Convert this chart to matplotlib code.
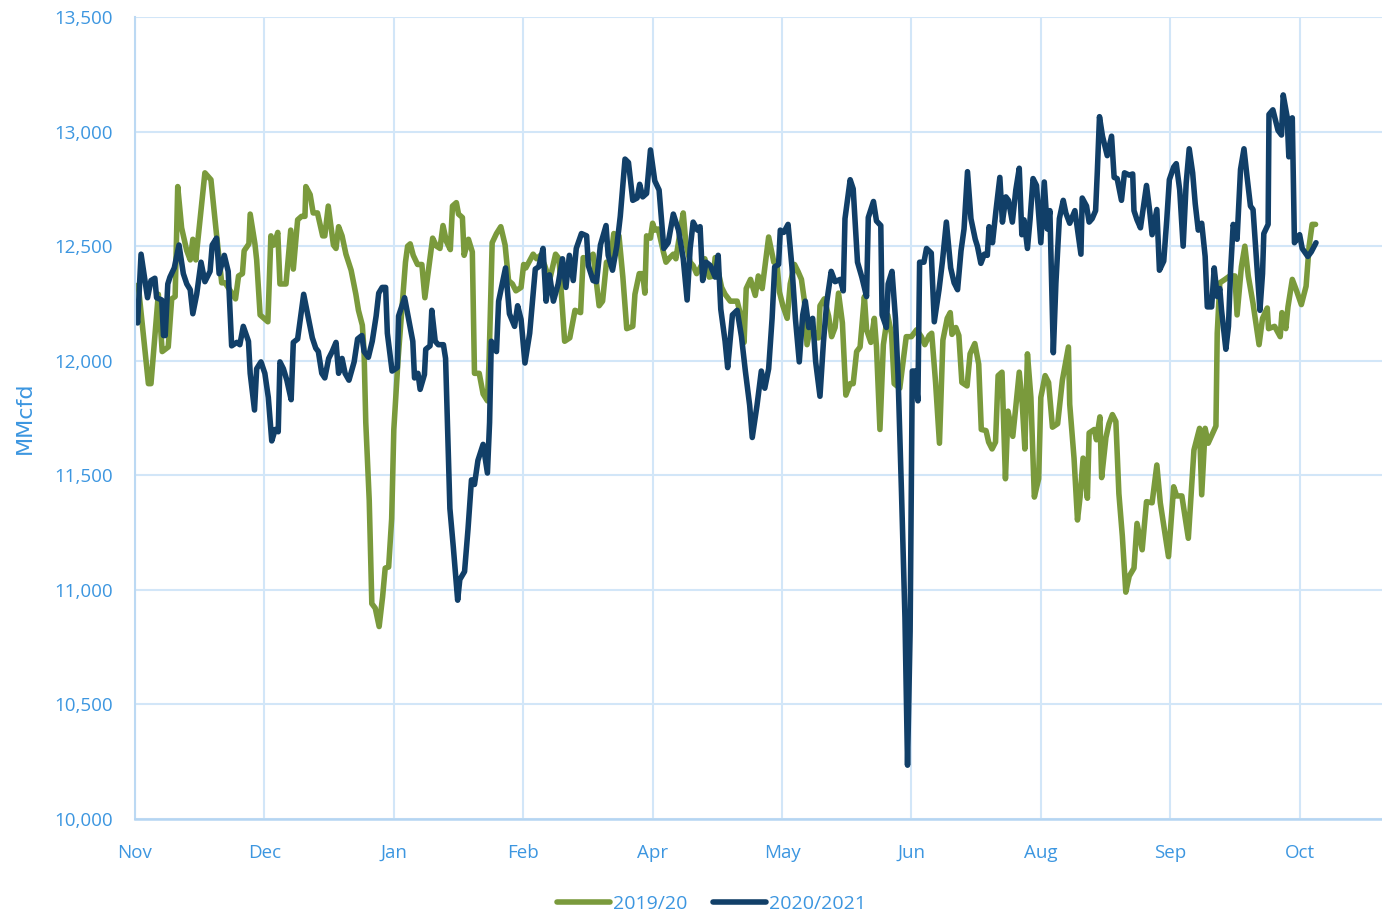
import matplotlib
matplotlib.use("Agg")
import matplotlib.pyplot as plt

# day offset from 1 Nov and value (MMcfd)
days_1920 = [0, 0.8, 3.1, 3.7, 5.4, 6.3, 7.7, 8.5, 9.3, 9.9, 10.8, 12.0, 12.8, 13.4, 14.1, 16.2, 17.6, 18.9, 20.1, 20.9,
             23.3, 24.0, 24.9, 25.3, 26.4, 26.7, 27.8, 28.2, 29.0, 30.8, 31.5, 32.2, 33.1, 33.6, 35.0, 36.1, 36.7, 37.7, 38.6, 39.4,
             39.6, 40.6, 41.3, 42.3, 43.5, 44.0, 44.8, 46.0, 46.6, 47.2, 48.0, 48.9, 50.1, 51.2, 51.8, 52.7, 53.1, 53.5, 54.3, 54.9,
             55.7, 56.6, 57.4, 58.0, 58.8, 59.5, 60.0, 61.0, 62.7, 63.2, 63.8, 64.5, 65.5, 66.5, 67.2, 69.0, 69.9, 70.7, 71.4, 72.2,
             73.1, 73.6, 74.5, 75.0, 75.9, 76.3, 77.3, 78.2, 78.7, 79.8, 80.7, 81.7, 82.1, 82.8, 83.8, 84.8, 85.8, 86.6, 87.5, 88.3,
             89.5, 90.1, 90.6, 92.3, 93.1, 94.0, 95.0, 96.1, 97.5, 98.3, 99.6, 100.8, 102.0, 103.3, 103.9, 105.1, 106.2, 107.6, 108.4, 109.3,
             110.1, 111.0, 112.2, 113.1, 114.0, 115.4, 115.9, 116.9, 117.7, 118.2, 118.6, 119.5, 120.0, 120.5, 121.3, 122.5, 123.1, 124.0, 124.8, 125.4,
             126.3, 127.1, 127.7, 128.7, 129.4, 130.2, 131.0, 132.1, 133.1, 134.1, 134.5, 136.0, 136.8, 138.0, 139.6, 140.4, 141.2, 141.7, 142.7, 143.8,
             144.5, 145.4, 146.9, 148.1, 148.8, 149.4, 150.2, 151.2, 151.9, 152.9, 153.7, 154.5, 155.2, 155.8, 156.8, 157.7, 158.5, 158.8, 159.8, 160.8,
             161.5, 162.3, 163.1, 164.0, 164.8, 165.8, 166.5, 167.3, 168.1, 169.1, 169.6, 170.6, 171.4, 171.9, 172.7, 173.5, 174.5, 175.4, 176.0, 177.3,
             178.8, 180.0, 181.2, 182.3, 183.1, 184.1, 184.7, 185.6, 186.5, 187.3, 188.3, 189.0, 189.4, 190.3, 191.0, 191.7, 192.9, 193.6, 194.7, 195.6,
             196.2, 197.3, 197.9, 198.7, 199.5, 200.1, 201.0, 201.8, 202.4, 203.5, 204.1, 205.0, 205.7, 206.3, 206.9, 207.7, 208.5, 209.5, 210.0, 211.0,
             211.8, 212.7, 213.9, 215.0, 216.4, 216.7, 217.7, 218.5, 219.1, 219.8, 220.8, 221.2, 222.4, 222.9, 223.7, 224.1, 225.1, 225.8, 226.6, 227.4,
             228.1, 228.9, 229.7, 230.5, 231.6, 232.3, 233.5, 234.5, 235.8, 236.9, 237.7, 239.6, 240.8, 241.5, 242.7, 244.2, 245.5, 246.8, 247.3, 248.1,
             248.8, 250.6, 250.9, 251.5, 252.7, 253.8, 255.0, 255.5, 256.5, 257.3, 258.1, 259.2, 260.6, 261.4, 262.5, 262.8, 264.2, 265.5, 265.9, 266.8,
             267.3, 268.3, 269.2, 270.4, 271.5, 272.2, 272.9, 273.7]
vals_1920 = [12330, 12320, 11900, 11900, 12290, 12040, 12060, 12270, 12280, 12760, 12580, 12480, 12440, 12530, 12440, 12820, 12790, 12550, 12340, 12340,
             12270, 12370, 12380, 12480, 12510, 12640, 12510, 12440, 12200, 12170, 12545, 12505, 12560, 12335, 12335, 12570, 12400, 12615, 12630, 12630,
             12760, 12725, 12645, 12645, 12545, 12545, 12675, 12505, 12490, 12585, 12545, 12465, 12395, 12290, 12220, 12155, 12040, 11730, 11390, 10940,
             10920, 10840, 10970, 11095, 11100, 11310, 11700, 12010, 12430, 12500, 12510, 12460, 12420, 12420, 12275, 12535, 12500, 12490, 12590, 12520,
             12485, 12675, 12690, 12640, 12625, 12460, 12530, 12475, 11945, 11945, 11855, 11825, 12010, 12515, 12555, 12585, 12505, 12350, 12335, 12305,
             12320, 12420, 12405, 12465, 12445, 12460, 12415, 12350, 12465, 12445, 12085, 12100, 12220, 12210, 12450, 12445, 12465, 12240, 12260, 12430,
             12420, 12555, 12545, 12365, 12140, 12150, 12290, 12380, 12380, 12295, 12545, 12535, 12600, 12570, 12575, 12475, 12430, 12450, 12465, 12445,
             12555, 12645, 12515, 12430, 12415, 12380, 12405, 12445, 12365, 12370, 12450, 12320, 12290, 12260, 12260, 12200, 12080, 12315, 12355, 12285,
             12370, 12315, 12540, 12430, 12430, 12300, 12240, 12185, 12335, 12420, 12390, 12355, 12260, 12070, 12165, 12100, 12100, 12240, 12270, 12195,
             12105, 12145, 12295, 12165, 11850, 11900, 11900, 12040, 12060, 12280, 12135, 12080, 12185, 12060, 11700, 12070, 12200, 12115, 11900, 11880,
             12105, 12105, 12135, 12105, 12070, 12110, 12120, 11905, 11640, 12090, 12185, 12210, 12115, 12145, 12110, 11905, 11890, 12030, 12075, 11985,
             11700, 11695, 11645, 11615, 11645, 11935, 11950, 11485, 11780, 11670, 11780, 11950, 11810, 11615, 12030, 11840, 11405, 11485, 11840, 11935,
             11905, 11710, 11725, 11915, 12060, 11810, 11575, 11305, 11405, 11575, 11400, 11685, 11700, 11655, 11755, 11490, 11665, 11725, 11765, 11735,
             11420, 11235, 10990, 11060, 11095, 11290, 11175, 11385, 11380, 11545, 11380, 11145, 11450, 11410, 11410, 11225, 11610, 11705, 11415, 11705,
             11640, 11715, 12120, 12340, 12355, 12370, 12370, 12200, 12410, 12500, 12370, 12250, 12070, 12185, 12230, 12140, 12150, 12105, 12210, 12140,
             12235, 12355, 12310, 12245, 12325, 12500, 12595, 12595]

days_2021 = [0, 0.6, 1.4, 2.3, 2.9, 3.7, 4.6, 5.0, 6.2, 6.6, 7.0, 7.6, 8.1, 9.1, 10.2, 11.2, 12.0, 12.8, 13.4, 14.3,
             15.3, 16.2, 17.4, 17.9, 18.9, 19.5, 20.7, 21.6, 22.4, 23.6, 24.3, 25.1, 26.3, 26.7, 27.7, 28.2, 29.2, 30.1, 30.9, 31.7,
             32.5, 33.2, 33.6, 34.4, 35.2, 36.2, 36.7, 37.7, 39.1, 40.0, 41.1, 41.9, 42.5, 43.3, 44.0, 44.9, 45.7, 46.6, 47.2, 48.0,
             48.7, 49.6, 50.8, 51.6, 52.6, 53.1, 54.1, 55.0, 55.9, 56.5, 57.3, 58.1, 58.5, 59.6, 60.8, 61.1, 62.5, 63.6, 64.4, 64.8,
             65.6, 66.1, 67.1, 67.4, 68.4, 68.8, 69.6, 70.3, 71.5, 72.0, 73.0, 73.8, 74.8, 75.3, 76.4, 77.2, 78.0, 78.7, 79.5, 80.7,
             81.7, 82.2, 82.6, 83.8, 84.3, 85.9, 86.8, 88.0, 88.7, 89.5, 90.4, 91.5, 92.8, 93.6, 94.6, 95.3, 96.1, 97.0, 98.1, 99.1,
             99.9, 100.7, 101.6, 102.3, 103.5, 104.7, 105.1, 106.2, 107.0, 107.9, 109.2, 109.7, 110.7, 111.7, 112.5, 113.6, 114.4, 115.4, 116.4, 117.0,
             117.7, 118.6, 119.5, 120.5, 121.5, 122.6, 123.6, 124.8, 126.0, 127.1, 128.0, 128.7, 129.4, 130.4, 131.0, 131.6, 132.4, 133.4, 134.5, 135.2,
             135.8, 136.8, 137.4, 138.5, 139.6, 140.6, 141.5, 142.5, 143.1, 144.2, 145.2, 146.0, 146.9, 147.7, 148.3, 149.2, 149.6, 150.4, 151.4, 152.3,
             153.1, 154.0, 154.8, 155.4, 156.2, 157.1, 157.8, 158.8, 159.6, 160.4, 161.4, 162.3, 163.5, 164.2, 164.6, 165.8, 166.5, 167.5, 168.5, 169.6,
             170.0, 171.2, 171.9, 172.9, 173.2, 174.2, 174.6, 175.5, 176.3, 176.9, 177.7, 178.5, 179.1, 179.7, 180.2, 180.8, 181.5, 181.9, 182.9, 183.5,
             184.6, 185.3, 186.4, 187.2, 188.1, 189.1, 189.9, 190.7, 191.5, 192.2, 193.0, 193.8, 194.8, 195.3, 196.1, 196.9, 197.6, 198.0, 198.8, 199.6,
             200.5, 201.1, 201.9, 202.5, 203.4, 204.2, 205.0, 205.6, 206.1, 206.9, 207.5, 208.2, 209.0, 210.0, 210.8, 211.5, 212.1, 212.9, 213.5, 214.3,
             215.2, 215.8, 216.7, 217.9, 219.3, 219.6, 220.6, 221.2, 221.9, 222.7, 223.1, 223.6, 224.3, 225.4, 226.4, 227.0, 227.7, 228.7, 229.4, 230.5,
             231.3, 231.6, 232.3, 233.1, 234.5, 235.2, 235.8, 236.9, 237.5, 238.5, 239.2, 239.8, 240.8, 241.4, 242.2, 243.0, 243.7, 244.4, 245.2, 245.8,
             246.5, 247.3, 248.1, 248.6, 249.6, 250.2, 250.9, 251.5, 251.9, 252.9, 253.5, 254.0, 254.6, 255.5, 256.3, 257.1, 257.8, 258.6, 259.2, 260.0,
             260.8, 261.4, 261.7, 262.7, 262.9, 263.8, 265.0, 265.8, 266.2, 267.1, 267.5, 268.3, 268.8, 270.0, 270.6, 271.9, 272.7, 273.8]
vals_2021 = [12250, 12165, 12465, 12350, 12275, 12350, 12360, 12275, 12265, 12110, 12110, 12335, 12365, 12405, 12505, 12380, 12335, 12310, 12205, 12290,
             12430, 12345, 12390, 12505, 12535, 12380, 12460, 12390, 12065, 12080, 12070, 12150, 12085, 11945, 11785, 11965, 11995, 11945, 11840, 11650,
             11700, 11690, 11995, 11965, 11915, 11830, 12080, 12095, 12290, 12205, 12100, 12055, 12040, 11945, 11925, 12010, 12040, 12080, 11945, 12010,
             11945, 11915, 11995, 12095, 12110, 12040, 12015, 12085, 12195, 12295, 12320, 12320, 12120, 11955, 11970, 12195, 12275, 12165, 12085, 11925,
             11945, 11875, 11940, 12050, 12065, 12220, 12085, 12070, 12070, 12010, 11355, 11185, 10955, 11045, 11080, 11265, 11480, 11460, 11565, 11635,
             11510, 11730, 12085, 12040, 12260, 12405, 12205, 12150, 12240, 12180, 11990, 12120, 12400, 12410, 12490, 12260, 12375, 12260, 12335, 12445,
             12320, 12460, 12350, 12490, 12555, 12545, 12415, 12350, 12345, 12505, 12590, 12460, 12395, 12500, 12630, 12880, 12865, 12700, 12710, 12770,
             12715, 12730, 12920, 12785, 12745, 12490, 12515, 12640, 12570, 12445, 12265, 12490, 12605, 12570, 12585, 12350, 12430, 12415, 12365, 12460,
             12225, 12085, 11970, 12200, 12220, 12105, 11955, 11805, 11665, 11805, 11955, 11880, 11965, 12185, 12410, 12420, 12570, 12560, 12595, 12410,
             12185, 11995, 12200, 12260, 12145, 12185, 11995, 11845, 12080, 12260, 12390, 12345, 12355, 12305, 12620, 12790, 12750, 12430, 12365, 12280,
             12625, 12695, 12610, 12590, 12200, 12145, 12335, 12390, 12185, 11935, 11425, 10880, 10235, 10820, 11955, 11955, 11825, 12430, 12430, 12490,
             12470, 12170, 12310, 12435, 12605, 12405, 12340, 12310, 12480, 12575, 12825, 12620, 12530, 12500, 12425, 12465, 12460, 12585, 12515, 12655,
             12800, 12605, 12715, 12700, 12605, 12745, 12840, 12550, 12615, 12490, 12615, 12795, 12765, 12515, 12780, 12575, 12655, 12035, 12340, 12620,
             12700, 12645, 12600, 12655, 12465, 12710, 12675, 12605, 12620, 12655, 12825, 13065, 12980, 12895, 12980, 12800, 12795, 12700, 12820, 12810,
             12815, 12655, 12615, 12580, 12765, 12660, 12550, 12660, 12395, 12435, 12615, 12790, 12845, 12860, 12745, 12500, 12775, 12925, 12820, 12685,
             12570, 12600, 12455, 12235, 12235, 12405, 12280, 12315, 12220, 12050, 12150, 12395, 12595, 12530, 12835, 12925, 12805, 12675, 12660, 12440,
             12220, 12380, 12555, 12595, 13075, 13095, 13005, 12985, 13160, 13065, 12890, 13060, 12515, 12550, 12490, 12455, 12475, 12515]

tick_days = [0, 30, 60, 90, 120, 150, 180, 210, 240, 270]
tick_labels = ["Nov", "Dec", "Jan", "Feb", "Apr", "May", "Jun", "Aug", "Sep", "Oct"]
y_ticks = [10000, 10500, 11000, 11500, 12000, 12500, 13000, 13500]

green = "#7a9a3c"
navy = "#113f68"
label_blue = "#3c96e0"
grid_blue = "#d2e6f8"

fig = plt.figure(figsize=(13.82, 9.15), dpi=100)
ax = fig.add_axes([0.0977, 0.1049, 0.9023, 0.8765])

ax.plot(days_1920, vals_1920, color=green, lw=4.0, solid_joinstyle="round", solid_capstyle="round", label="2019/20")
ax.plot(days_2021, vals_2021, color=navy, lw=4.0, solid_joinstyle="round", solid_capstyle="round", label="2020/2021")

ax.set_xlim(0, 289.1)
ax.set_ylim(10000, 13500)
ax.set_xticks(tick_days)
ax.set_xticklabels(tick_labels)
ax.set_yticks(y_ticks)
ax.set_yticklabels([f"{v:,}" for v in y_ticks])

ax.grid(True, color=grid_blue, lw=1.5)
ax.set_axisbelow(True)
for side in ["top", "right"]:
    ax.spines[side].set_visible(False)
ax.spines["left"].set_color("#bcd9f3")
ax.spines["left"].set_linewidth(1.5)
ax.spines["bottom"].set_color("#b5d5f2")
ax.spines["bottom"].set_linewidth(1.8)

ax.tick_params(axis="both", length=0, colors=label_blue, labelsize=13.5)
ax.tick_params(axis="y", pad=16)
ax.tick_params(axis="x", pad=18)
for t in ax.get_xticklabels() + ax.get_yticklabels():
    t.set_family(["Open Sans", "DejaVu Sans"])

ax.set_ylabel("MMcfd", color=label_blue, fontsize=16, family=["Liberation Sans Narrow", "DejaVu Sans"], labelpad=14)

fig.legend(loc="center", bbox_to_anchor=(0.515, 0.012), ncol=2, frameon=False,
           prop={"family": ["Open Sans", "DejaVu Sans"], "size": 14}, labelcolor=label_blue,
           handlelength=2.7, handletextpad=0.2, columnspacing=1.3)

fig.savefig("out.png", dpi=100)
